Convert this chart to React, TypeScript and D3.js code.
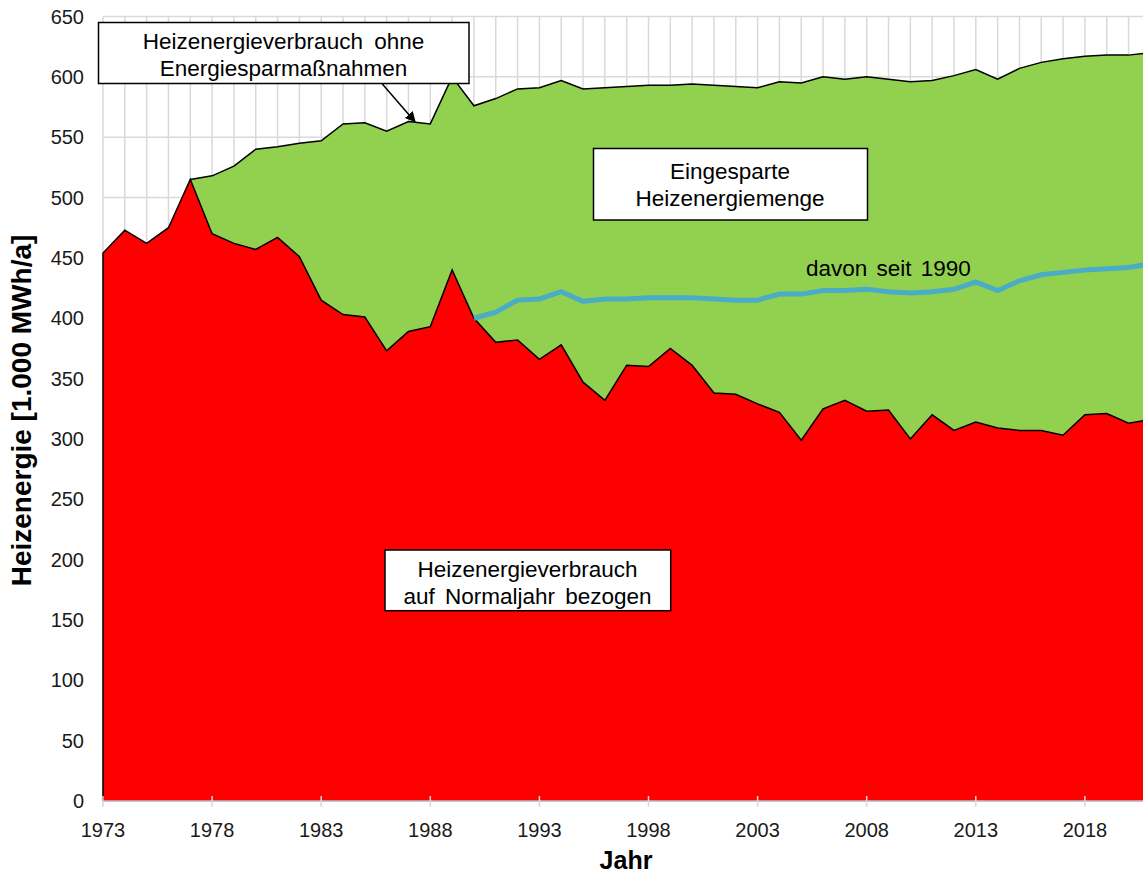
import React from 'react';
import * as d3 from 'd3';

// Jahre 1973..2021
const years = d3.range(1973, 2022);

// Heizenergieverbrauch auf Normaljahr bezogen [1.000 MWh/a]
const verbrauch = [
  454, 473, 462, 475, 515, 470, 462, 457, 467, 451,
  415, 403, 401, 373, 389, 393, 440, 400, 380, 382,
  366, 378, 347, 332, 361, 360, 375, 361, 338, 337,
  329, 322, 299, 325, 332, 323, 324, 300, 320, 307,
  314, 309, 307, 307, 303, 320, 321, 313, 316,
];

// Heizenergieverbrauch ohne Energiesparmaßnahmen (ab 1977)
const ohneYears = d3.range(1977, 2022);
const ohne = [
  515, 518, 526, 540, 542, 545, 547, 561, 562, 555,
  563, 561, 600, 576, 582, 590, 591, 597, 590, 591,
  592, 593, 593, 594, 593, 592, 591, 596, 595, 600,
  598, 600, 598, 596, 597, 601, 606, 598, 607, 612,
  615, 617, 618, 618, 620,
];

// davon seit 1990
const seitYears = d3.range(1990, 2022);
const seit1990 = [
  400, 405, 415, 416, 422, 414, 416, 416, 417, 417,
  417, 416, 415, 415, 420, 420, 423, 423, 424, 422,
  421, 422, 424, 430, 423, 431, 436, 438, 440, 441,
  442, 445,
];

const yTicks = d3.range(0, 651, 50);
const xTicks = d3.range(1973, 2022, 5);

const W = 1143;
const H = 877;
const font = '"Liberation Sans", Arial, sans-serif';

const App = () => {
  const x = d3.scaleLinear().domain([1973, 2021]).range([103, 103 + 48 * 21.82]);
  const y = d3.scaleLinear().domain([0, 650]).range([801, 16.5]);

  const red = years.map((yr, i) => ({ yr, v: verbrauch[i] }));
  const green = ohneYears.map((yr, i) => ({
    yr,
    lo: verbrauch[years.indexOf(yr)],
    hi: ohne[i],
  }));
  const blue = seitYears.map((yr, i) => ({ yr, v: seit1990[i] }));

  const redArea = d3
    .area<{ yr: number; v: number }>()
    .x((d) => x(d.yr))
    .y0(y(0))
    .y1((d) => y(d.v));
  const greenArea = d3
    .area<{ yr: number; lo: number; hi: number }>()
    .x((d) => x(d.yr))
    .y0((d) => y(d.lo))
    .y1((d) => y(d.hi));
  const line = d3
    .line<{ yr: number; v: number }>()
    .x((d) => x(d.yr))
    .y((d) => y(d.v));

  const redOutline = [{ yr: 1973, v: 0 }, ...red];
  const greenTop = green.map((d) => ({ yr: d.yr, v: d.hi }));

  const gridYears = years.filter((yr) => x(yr) <= W);

  return (
    <svg
      width={W}
      height={H}
      style={{ position: 'absolute', left: 0, top: 0, background: '#fff' }}
      fontFamily={font}
    >
      <defs>
        <clipPath id="plot">
          <rect x={0} y={0} width={W} height={H} />
        </clipPath>
        <marker
          id="arrow"
          viewBox="0 0 10 10"
          refX="9"
          refY="5"
          markerWidth="7"
          markerHeight="7"
          orient="auto"
        >
          <path d="M0,0 L10,5 L0,10 z" fill="#000" />
        </marker>
      </defs>

      {/* Gitter */}
      <g stroke="#d9d9d9" strokeWidth={1.5}>
        {gridYears.map((yr) => (
          <line key={'v' + yr} x1={x(yr)} x2={x(yr)} y1={y(0)} y2={y(650)} />
        ))}
        {yTicks.map((t) => (
          <line key={'h' + t} x1={x(1973)} x2={W} y1={y(t)} y2={y(t)} />
        ))}
      </g>

      <g clipPath="url(#plot)">
        <path d={greenArea(green) ?? ''} fill="#92d050" />
        <path d={redArea(red) ?? ''} fill="#ff0000" />
        <path d={line(greenTop) ?? ''} fill="none" stroke="#000" strokeWidth={1.5} />
        <path d={line(redOutline) ?? ''} fill="none" stroke="#000" strokeWidth={1.5} />
      </g>

      {/* x-Achse */}
      <line x1={x(1973)} x2={W} y1={y(0)} y2={y(0)} stroke="#bfbfbf" strokeWidth={1.5} />
      {xTicks.map((t) => (
        <g key={t}>
          <line x1={x(t)} x2={x(t)} y1={y(0) - 5} y2={y(0) + 6} stroke="#d9d9d9" strokeWidth={1.5} />
          <text x={x(t)} y={837} textAnchor="middle" fontSize={20} fill="#1a1a1a">
            {t}
          </text>
        </g>
      ))}

      {/* y-Achse */}
      {yTicks.map((t) => (
        <text key={t} x={84} y={y(t) + 7} textAnchor="end" fontSize={20} fill="#1a1a1a">
          {t}
        </text>
      ))}

      <path
        d={line(blue) ?? ''}
        fill="none"
        stroke="#4bacc6"
        strokeWidth={5}
        clipPath="url(#plot)"
      />

      <text
        transform={`translate(31,410.5) rotate(-90)`}
        textAnchor="middle"
        fontSize={28}
        fontWeight="bold"
        fill="#000"
      >
        Heizenergie [1.000 MWh/a]
      </text>
      <text x={626} y={869} textAnchor="middle" fontSize={25} fontWeight="bold" fill="#000">
        Jahr
      </text>

      {/* Beschriftungen */}
      <rect x={98.5} y={22.5} width={370.5} height={61} fill="#fff" stroke="#000" strokeWidth={1.5} />
      <text x={283.5} y={49.3} textAnchor="middle" fontSize={22.5} wordSpacing={5}>
        Heizenergieverbrauch ohne
      </text>
      <text x={283.5} y={76} textAnchor="middle" fontSize={22.5}>
        Energiesparmaßnahmen
      </text>
      <line
        x1={381.7}
        y1={83.3}
        x2={415}
        y2={121.7}
        stroke="#000"
        strokeWidth={1.5}
        markerEnd="url(#arrow)"
      />

      <rect x={593.5} y={148.5} width={274} height={71.5} fill="#fff" stroke="#000" strokeWidth={1.5} />
      <text x={730} y={179} textAnchor="middle" fontSize={22.5}>
        Eingesparte
      </text>
      <text x={730} y={205.7} textAnchor="middle" fontSize={22.5}>
        Heizenergiemenge
      </text>

      <rect x={385} y={550} width={285.7} height={60.7} fill="#fff" stroke="#000" strokeWidth={1.5} />
      <text x={527.5} y={576.7} textAnchor="middle" fontSize={22.5}>
        Heizenergieverbrauch
      </text>
      <text x={527.5} y={604} textAnchor="middle" fontSize={22.5} wordSpacing={4}>
        auf Normaljahr bezogen
      </text>

      <text x={806} y={276} fontSize={22.5} wordSpacing={3} fill="#000">
        davon seit 1990
      </text>
    </svg>
  );
};

export default App;
